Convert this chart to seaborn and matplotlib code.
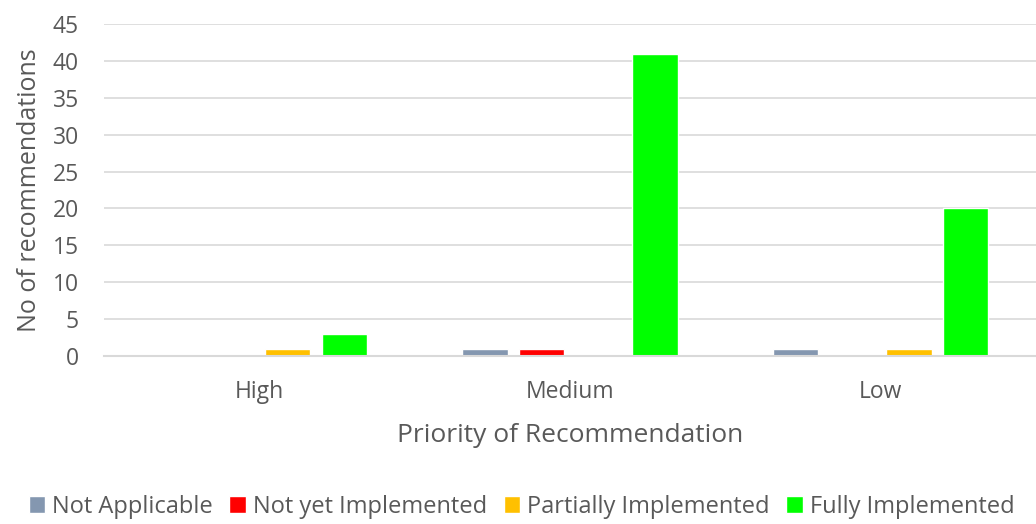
import pandas as pd
import seaborn as sns
import matplotlib.pyplot as plt

priorities = ['High', 'Medium', 'Low']
statuses = ['Not Applicable', 'Not yet Implemented', 'Partially Implemented', 'Fully Implemented']
not_applicable = [0, 1, 1]
not_yet = [0, 1, 0]
partially = [1, 0, 1]
fully = [3, 41, 20]
colors = ['#8497B0', '#FF0000', '#FFC000', '#00FF00']

rows = []
for i, p in enumerate(priorities):
    for s, vals in zip(statuses, [not_applicable, not_yet, partially, fully]):
        rows.append({'Priority': p, 'Status': s, 'Count': vals[i]})
df = pd.DataFrame(rows)

sns.set_style('white')
plt.rcParams['font.family'] = ['Open Sans', 'DejaVu Sans']
grey = '#595959'

fig = plt.figure(figsize=(10.36, 5.24), dpi=100)
ax = fig.add_axes([0.1004, 0.3206, 0.8996, 0.6336])
sns.barplot(data=df, x='Priority', y='Count', hue='Status', palette=colors,
            order=priorities, hue_order=statuses, width=0.73, gap=0.2,
            saturation=1, ax=ax, legend=True)

ax.set_ylim(0, 45)
ax.set_yticks(range(0, 46, 5))
ax.set_xlim(-0.5, 2.5)
ax.grid(axis='y', color='#D9D9D9', linewidth=1.2)
ax.set_axisbelow(True)
for sp in ['top', 'right', 'left']:
    ax.spines[sp].set_visible(False)
ax.spines['bottom'].set_color('#D9D9D9')
ax.spines['bottom'].set_linewidth(1.5)
ax.tick_params(axis='both', length=0, labelsize=16.5, colors=grey)
ax.tick_params(axis='y', pad=18)
ax.tick_params(axis='x', pad=17)
ax.set_xlabel('Priority of Recommendation', fontsize=19, color=grey, labelpad=14)
ax.set_ylabel('No of recommendations', fontsize=18, color=grey, labelpad=8)

ax.legend(loc='lower center', bbox_to_anchor=(0.448, -0.555), ncol=4, frameon=False,
          fontsize=17, handlelength=0.7, handleheight=0.7, handletextpad=0.3,
          columnspacing=0.7, labelcolor=grey)

fig.savefig('out.png', dpi=100)
